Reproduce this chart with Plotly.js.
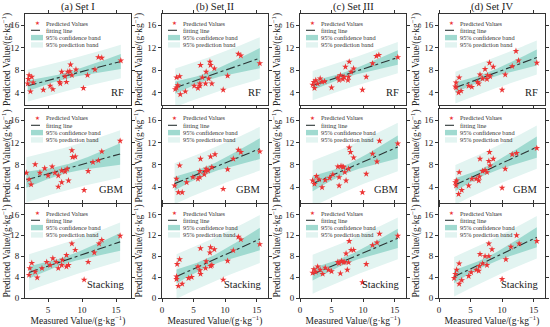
<!DOCTYPE html>
<html><head><meta charset="utf-8">
<script src="https://cdn.plot.ly/plotly-3.0.1.min.js"></script>
<style>html,body{margin:0;padding:0;background:#fff}#chart{width:550px;height:327px}</style>
</head><body><div id="chart"></div>
<script>
const setTitles = ['(a) Set I', '(b) Set II', '(c) Set III', '(d) Set IV'];
const models = ['RF', 'GBM', 'Stacking'];
const legendLabels = ['Predicted Values', 'fitting line', '95% confidence band', '95% prediction band'];
const xTickVals = [0, 5, 10, 15];
const yTickVals = [0, 4, 8, 12, 16];
const xTitle = 'Measured Value/(g·kg<sup>−1</sup>)';
const yTitle = 'Predicted Value/(g·kg<sup>−1</sup>)';

// Set I
const setI_RF_x = [2.0,2.1,2.2,2.6,2.4,2.8,4.3,5.3,5.7,6.7,6.8,7.0,7.5,7.7,7.9,8.2,8.3,8.5,9.1,10.2,10.8,11.9,12.4,12.9,15.7];
const setI_RF_y = [5.6,6.4,7.1,6.8,4.2,5.8,4.5,5.2,4.6,5.9,5.6,7.7,6.9,5.9,7.7,7.8,9.0,7.1,8.1,4.8,7.1,8.1,10.3,10.2,9.7];
const setI_GBM_x = [1.8,2.2,2.5,3.1,3.8,4.5,5.0,5.6,6.0,6.5,6.5,7.0,7.8,7.5,7.0,8.0,8.5,8.6,9.0,10.3,10.9,11.6,12.4,12.9,15.6];
const setI_GBM_y = [6.6,5.4,4.5,8.1,6.6,7.4,6.1,7.7,6.6,6.1,4.1,7.0,7.3,6.8,4.9,5.2,10.6,9.4,9.5,3.5,6.9,8.5,8.8,10.4,12.3];
const setI_ST_x = [2.3,2.6,2.2,3.1,3.4,4.1,4.8,5.3,5.7,6.2,6.5,7.1,7.7,8.5,9.0,8.0,7.7,7.0,10.3,10.9,11.8,12.5,12.9,15.6];
const setI_ST_y = [5.7,6.7,4.4,5.0,3.9,5.7,6.9,6.3,7.6,6.9,5.7,7.3,8.2,10.4,9.2,6.3,6.0,6.3,3.5,6.9,8.7,10.4,11.1,11.9];
// Set II
const setII_RF_x = [2.1,2.3,2.3,2.5,2.8,2.9,3.7,5.1,6.0,6.0,5.7,6.1,6.4,7.0,6.9,7.4,7.6,7.7,7.9,8.3,9.7,10.4,12.1,12.5,15.5];
const setII_RF_y = [4.6,6.7,4.9,5.3,6.9,3.7,4.2,5.2,5.6,5.2,4.8,8.9,6.7,7.7,5.6,6.5,9.5,8.9,5.6,8.3,4.5,7.0,10.9,10.6,9.2];
const setII_GBM_x = [2.0,2.3,2.8,2.6,3.2,3.9,4.9,5.7,6.0,6.0,6.1,6.7,6.9,7.0,7.3,7.7,7.9,8.4,9.7,10.4,11.3,12.1,12.5,15.5];
const setII_GBM_y = [4.3,5.5,7.9,3.1,3.1,4.9,5.8,5.5,5.8,6.9,9.1,6.3,6.9,7.3,7.0,9.5,7.6,9.9,3.7,7.2,9.1,10.7,10.3,10.4];
const setII_ST_x = [2.3,2.4,2.8,2.3,2.6,3.2,4.2,4.7,5.7,6.0,6.1,6.1,6.9,7.0,7.6,7.7,7.7,7.9,8.3,9.7,10.4,11.3,12.1,12.5,15.5];
const setII_ST_y = [4.1,6.5,7.4,3.6,2.3,2.7,3.8,4.0,6.0,5.3,4.6,9.5,5.7,7.0,8.7,6.1,9.7,6.3,9.3,3.5,7.1,9.1,11.7,11.2,10.3];
// Set III
const setIII_RF_x = [2.0,2.2,2.5,2.8,3.2,3.5,2.3,3.9,5.0,6.0,6.2,6.4,6.8,7.0,7.2,7.6,7.7,7.8,8.1,8.5,9.9,10.5,11.5,12.1,12.5,15.5];
const setIII_RF_y = [5.4,5.9,6.2,5.6,6.5,5.9,4.8,6.0,4.9,6.7,6.2,7.1,6.4,6.8,8.6,6.2,6.8,9.5,7.7,8.3,4.5,6.8,9.2,10.5,10.7,10.3];
const setIII_GBM_x = [2.0,2.3,2.6,3.0,3.5,4.0,4.7,5.2,6.0,6.2,6.2,6.5,6.8,6.9,7.1,7.3,7.7,7.8,8.0,8.5,9.9,10.5,11.5,12.2,12.6,15.5];
const setIII_GBM_y = [5.2,4.6,6.0,5.4,4.0,5.3,5.7,6.3,7.7,5.8,4.3,7.8,7.7,7.6,6.7,5.2,7.3,11.1,10.3,9.3,3.1,6.4,10.0,8.6,12.3,11.8];
const setIII_ST_x = [2.0,2.2,2.5,2.8,3.2,3.6,4.0,4.5,5.0,6.0,6.2,6.4,6.6,6.9,7.1,7.3,7.5,7.7,7.8,8.1,8.5,9.9,10.5,11.5,12.2,12.6,15.5];
const setIII_ST_y = [4.8,5.5,5.0,6.0,5.4,4.6,5.8,5.4,5.1,6.9,6.6,4.7,7.1,6.8,6.9,8.5,5.4,6.8,10.9,9.2,9.2,3.0,6.5,10.1,10.6,12.3,11.9];
// Set IV
const setIV_RF_x = [2.6,2.7,3.2,3.1,3.5,2.7,4.7,5.2,6.1,6.3,6.5,6.9,7.3,7.6,7.7,8.0,8.1,8.6,10.0,10.5,11.6,12.2,12.6,15.5];
const setIV_RF_y = [5.1,5.8,6.7,4.0,4.3,4.9,5.2,5.0,5.9,5.6,7.2,6.5,8.2,6.4,7.1,9.3,6.9,8.6,4.5,7.2,8.7,11.4,9.7,9.3];
const setIV_GBM_x = [2.6,2.7,2.8,3.2,3.1,3.6,4.7,5.2,5.9,6.3,6.4,6.5,6.9,7.3,7.6,7.9,8.0,8.1,8.6,10.0,10.5,11.6,12.3,15.5];
const setIV_GBM_y = [4.9,4.3,5.2,6.7,2.8,3.5,4.3,5.5,5.5,5.2,5.9,9.1,6.9,7.1,6.7,8.7,10.3,7.9,9.1,3.9,7.3,9.9,10.1,11.0];
const setIV_ST_x = [2.4,2.6,2.8,3.2,3.2,3.6,4.7,5.1,5.9,6.3,6.4,6.5,6.9,7.3,7.6,7.9,7.9,8.4,10.0,10.6,11.4,12.3,12.7,15.5];
const setIV_ST_y = [3.8,4.6,5.4,6.6,2.7,3.4,4.2,4.9,5.4,5.2,6.1,8.4,6.6,8.0,6.3,10.4,8.0,9.3,3.6,7.4,9.8,12.0,10.4,10.9];

const panelData = [
  [[setI_RF_x, setI_RF_y], [setII_RF_x, setII_RF_y], [setIII_RF_x, setIII_RF_y], [setIV_RF_x, setIV_RF_y]],
  [[setI_GBM_x, setI_GBM_y], [setII_GBM_x, setII_GBM_y], [setIII_GBM_x, setIII_GBM_y], [setIV_GBM_x, setIV_GBM_y]],
  [[setI_ST_x, setI_ST_y], [setII_ST_x, setII_ST_y], [setIII_ST_x, setIII_ST_y], [setIV_ST_x, setIV_ST_y]]
];

// ---- layout geometry (pixels) ----
const W = 550, H = 327;
const colLeft = [25, 162, 300, 439];
const colWidth = 106;
const rowTop = [14, 109, 204];
const rowBottom = [105, 203, 298];
const xRanges = [[1.6, 17.2], [0, 16.8], [0, 16.8], [0, 16.8]];
const yRanges = [[1.8, 18], [1.2, 18], [0, 18]];

const RED = 'rgb(236,52,52)';
const CI_FILL = 'rgb(160,218,208)';
const PI_FILL = 'rgb(226,244,241)';
const LINE_COL = '#2b3535';
const SERIF = 'Liberation Serif, Times New Roman, serif';

function tq(df) {
  const z = 1.959964;
  return z + (z**3 + z) / (4*df) + (5*z**5 + 16*z**3 + 3*z) / (96*df*df)
    + (3*z**7 + 19*z**5 + 17*z**3 - 15*z) / (384*df**3);
}
function regress(xs, ys) {
  const n = xs.length;
  const mx = xs.reduce((a,b)=>a+b,0)/n, my = ys.reduce((a,b)=>a+b,0)/n;
  let sxx = 0, sxy = 0;
  for (let i=0;i<n;i++){ sxx += (xs[i]-mx)**2; sxy += (xs[i]-mx)*(ys[i]-my); }
  const b = sxy/sxx, a = my - b*mx;
  let sse = 0;
  for (let i=0;i<n;i++){ sse += (ys[i]-a-b*xs[i])**2; }
  const s = Math.sqrt(sse/(n-2));
  const t = tq(n-2);
  const lo = Math.min(...xs), hi = Math.max(...xs);
  const gx = [], fit = [], ciU = [], ciL = [], piU = [], piL = [];
  const N = 60;
  for (let k=0;k<=N;k++){
    const x = lo + (hi-lo)*k/N;
    const yh = a + b*x;
    const c = t*s*Math.sqrt(1/n + (x-mx)**2/sxx);
    const p = t*s*Math.sqrt(1 + 1/n + (x-mx)**2/sxx);
    gx.push(x); fit.push(yh); ciU.push(yh+c); ciL.push(yh-c); piU.push(yh+p); piL.push(yh-p);
  }
  return {gx, fit, ciU, ciL, piU, piL};
}

const traces = [];
const layout = {
  width: W, height: H,
  margin: {l:0, r:0, t:0, b:0},
  paper_bgcolor: '#fff', plot_bgcolor: '#fff',
  showlegend: false,
  font: {family: SERIF, color: '#222'},
  annotations: [], shapes: []
};

let idx = 0;
for (let r = 0; r < 3; r++) {
  for (let c = 0; c < 4; c++) {
    idx++;
    const xa = 'x' + (idx === 1 ? '' : idx), ya = 'y' + (idx === 1 ? '' : idx);
    const xKey = 'xaxis' + (idx === 1 ? '' : idx), yKey = 'yaxis' + (idx === 1 ? '' : idx);
    const [xs, ys] = panelData[r][c];
    const R = regress(xs, ys);
    const rev = arr => arr.slice().reverse();
    traces.push({x: R.gx.concat(rev(R.gx)), y: R.piU.concat(rev(R.piL)), xaxis: xa, yaxis: ya,
      type: 'scatter', mode: 'lines', fill: 'toself', fillcolor: PI_FILL, line: {width: 0}, hoverinfo: 'skip'});
    traces.push({x: R.gx.concat(rev(R.gx)), y: R.ciU.concat(rev(R.ciL)), xaxis: xa, yaxis: ya,
      type: 'scatter', mode: 'lines', fill: 'toself', fillcolor: CI_FILL, line: {width: 0}, hoverinfo: 'skip'});
    traces.push({x: R.gx, y: R.fit, xaxis: xa, yaxis: ya, type: 'scatter', mode: 'lines',
      line: {color: LINE_COL, width: 1.1, dash: 'dashdot'}});
    traces.push({x: xs, y: ys, xaxis: xa, yaxis: ya, type: 'scatter', mode: 'markers',
      marker: {symbol: 'star', size: 5, color: RED, line: {width: 0}}});

    const L = colLeft[c], Rr = colLeft[c] + colWidth;
    const axCommon = {showline: true, linecolor: '#333', linewidth: 1, mirror: 'ticks',
      ticks: 'outside', ticklen: 3, tickwidth: 1, tickcolor: '#333', showgrid: false, zeroline: false,
      tickfont: {family: SERIF, size: 9, color: '#222'}, fixedrange: true};
    const xa_obj = Object.assign({}, axCommon, {
      domain: [L / W, Rr / W], anchor: ya, range: xRanges[c],
      tickmode: 'array', tickvals: xTickVals, showticklabels: r === 2
    });
    if (r === 2) xa_obj.title = {text: xTitle, font: {family: SERIF, size: 9.5, color: '#222'}, standoff: 3};
    layout[xKey] = xa_obj;
    layout[yKey] = Object.assign({}, axCommon, {
      domain: [1 - rowBottom[r] / H, 1 - rowTop[r] / H], anchor: xa, range: yRanges[r],
      tickmode: 'array', tickvals: yTickVals,
      title: {text: yTitle, font: {family: SERIF, size: 9.5, color: '#222'}, standoff: 2}
    });

    // model label
    layout.annotations.push({xref: xa + ' domain', yref: ya + ' domain', x: 0.95, y: 0.06,
      xanchor: 'right', yanchor: 'bottom', text: models[r], showarrow: false,
      font: {family: SERIF, size: 10.5, color: '#222'}});

    // in-panel legend
    const ph = rowBottom[r] - rowTop[r];
    const rowsPx = [9.0, 16.3, 23.6, 30.9];
    const fy = d => 1 - d / ph;
    const fx = d => d / colWidth;
    legendLabels.forEach((lab, k) => {
      layout.annotations.push({xref: xa + ' domain', yref: ya + ' domain', x: fx(19.5), y: fy(rowsPx[k]),
        xanchor: 'left', yanchor: 'middle', text: lab, showarrow: false, borderpad: 0,
        font: {family: SERIF, size: 6.3, color: '#333'}});
    });
    layout.annotations.push({xref: xa + ' domain', yref: ya + ' domain', x: fx(12), y: fy(rowsPx[0]),
      xanchor: 'center', yanchor: 'middle', text: '★', showarrow: false, borderpad: 0,
      font: {family: 'DejaVu Sans', size: 5.5, color: RED}});
    layout.shapes.push({type: 'line', xref: xa + ' domain', yref: ya + ' domain',
      x0: fx(6), x1: fx(18), y0: fy(rowsPx[1]), y1: fy(rowsPx[1]),
      line: {color: LINE_COL, width: 1.1, dash: 'dashdot'}});
    layout.shapes.push({type: 'rect', xref: xa + ' domain', yref: ya + ' domain',
      x0: fx(6), x1: fx(18), y0: fy(rowsPx[2] + 2.7), y1: fy(rowsPx[2] - 2.7),
      fillcolor: CI_FILL, line: {width: 0}});
    layout.shapes.push({type: 'rect', xref: xa + ' domain', yref: ya + ' domain',
      x0: fx(6), x1: fx(18), y0: fy(rowsPx[3] + 2.7), y1: fy(rowsPx[3] - 2.7),
      fillcolor: PI_FILL, line: {width: 0}});
  }
}
// column titles
setTitles.forEach((t, c) => {
  layout.annotations.push({xref: 'paper', yref: 'paper', x: (colLeft[c] + colWidth / 2) / W, y: 1 - 7 / H,
    xanchor: 'center', yanchor: 'middle', text: t, showarrow: false,
    font: {family: SERIF, size: 10.5, color: '#222'}});
});

Plotly.newPlot('chart', traces, layout, {staticPlot: true, displayModeBar: false});
</script>
</body></html>
